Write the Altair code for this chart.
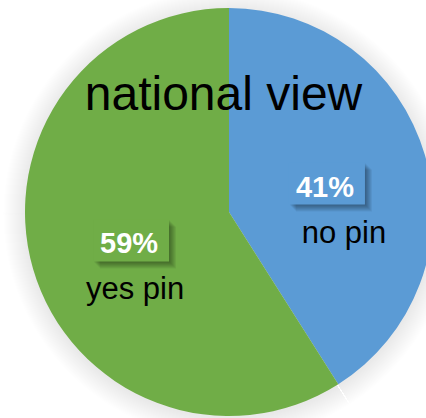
import altair as alt
import pandas as pd

labels = ["no pin", "yes pin"]
values = [41, 59]
pct_text = ["41%", "59%"]
colors = ["#5B9BD5", "#70AD47"]
title_text = "national view"

df = pd.DataFrame({"label": labels, "value": values, "pct": pct_text, "order": [0, 1]})

W, H = 394, 412
R = 204
LR = 102
FONT = "Liberation Sans"

base = alt.Chart(df)
theta = alt.Theta("value:Q", stack=True)
order = alt.Order("order:Q")
color = alt.Color("label:N", scale=alt.Scale(domain=labels, range=colors), legend=None)
xs = alt.Scale(domain=[-W / 2, W / 2], range=[0, W])
ys = alt.Scale(domain=[-H / 2, H / 2], range=[0, H])

layers = []
# soft outer shadow of the pie
for k in range(1, 23):
    layers.append(
        base.mark_arc(outerRadius=R + k, color="#000000", opacity=0.005).encode(
            theta=theta, order=order, x=alt.value(W / 2), y=alt.value(H / 2 + 2)
        )
    )

layers.append(base.mark_arc(outerRadius=R).encode(theta=theta, order=order, color=color))

pos = base.transform_window(
    cum="sum(value)", sort=[alt.SortField("order")], frame=[None, 0]
).transform_joinaggregate(total="sum(value)").transform_calculate(
    ang="2*PI*(datum.cum - datum.value/2)/datum.total",
    px=f"{LR}*sin(datum.ang)",
    py=f"-{LR}*cos(datum.ang)",
    bx1="datum.px-38",
    bx2="datum.px+38",
    by1="datum.py-21",
    by2="datum.py+21",
    tx="datum.px-2",
    ty="datum.py+13",
    ly="datum.py+59",
    lx="datum.px + (datum.order == 0 ? 17 : 4)",
)

# blurred drop shadow of the percentage boxes
for k in range(1, 8):
    sh = pos.transform_calculate(
        sx1=f"datum.bx1+{k}",
        sx2=f"datum.bx2+{k}",
        sy1=f"datum.by1+{k}",
        sy2=f"datum.by2+{k}",
    )
    layers.append(
        sh.mark_rect(color="#000000", opacity=0.06).encode(
            x=alt.X("sx1:Q", scale=xs, axis=None),
            x2="sx2:Q",
            y=alt.Y("sy1:Q", scale=ys, axis=None),
            y2="sy2:Q",
        )
    )

layers.append(
    pos.mark_rect().encode(
        x=alt.X("bx1:Q", scale=xs, axis=None),
        x2="bx2:Q",
        y=alt.Y("by1:Q", scale=ys, axis=None),
        y2="by2:Q",
        color=color,
    )
)

layers.append(
    pos.mark_text(font=FONT, fontSize=29, fontWeight="bold", color="white", align="center", baseline="alphabetic").encode(
        x=alt.X("tx:Q", scale=xs, axis=None),
        y=alt.Y("ty:Q", scale=ys, axis=None),
        text="pct:N",
    )
)

layers.append(
    pos.mark_text(font=FONT, fontSize=31, color="black", align="center", baseline="alphabetic").encode(
        x=alt.X("lx:Q", scale=xs, axis=None),
        y=alt.Y("ly:Q", scale=ys, axis=None),
        text="label:N",
    )
)

layers.append(
    base.mark_text(font=FONT, fontSize=48, color="black", align="center", baseline="alphabetic").encode(
        x=alt.value(191.5), y=alt.value(104), text=alt.value(title_text)
    ).transform_filter("datum.order == 0")
)

chart = alt.layer(*layers).properties(
    width=W,
    height=H,
    autosize=alt.AutoSizeParams(type="none"),
    padding={"left": 32, "top": 6, "right": 0, "bottom": 0},
    background="white",
).configure_view(stroke=None)

chart.save("out.html", embed_options={"renderer": "svg", "actions": False})
